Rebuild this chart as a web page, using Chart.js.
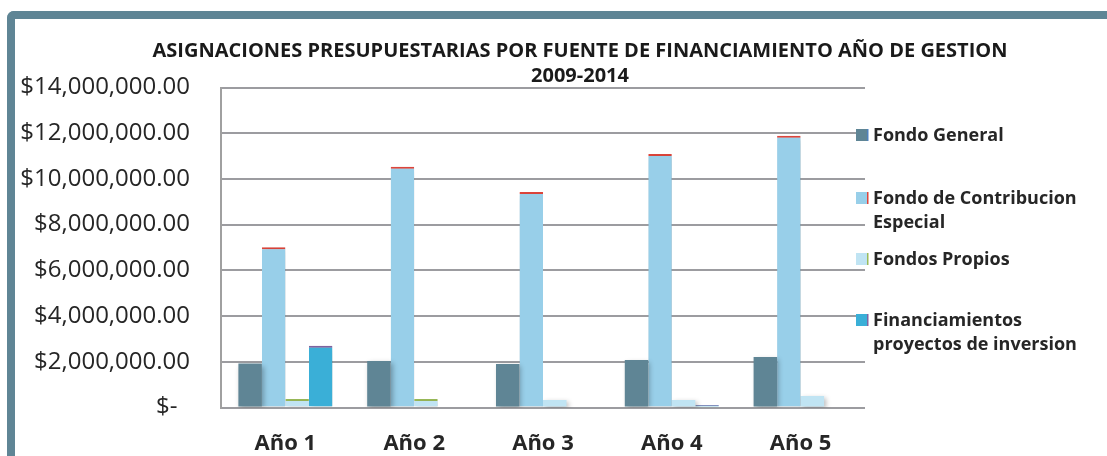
<!DOCTYPE html>
<html>
<head>
<meta charset="utf-8">
<script src="https://cdn.jsdelivr.net/npm/chart.js@4.4.1/dist/chart.umd.min.js"></script>
<style>
  html, body { margin: 0; padding: 0; background: #ffffff; overflow: hidden; }
  #frame {
    position: absolute; left: 7px; top: 11px; width: 1200px; height: 600px;
    border-top: 8px solid #5f8595; border-left: 8px solid #5f8595;
    border-top-left-radius: 7px; box-sizing: border-box;
  }
  #chart { position: absolute; left: 0; top: 0; }
</style>
</head>
<body>
<div id="frame"></div>
<canvas id="chart" width="1107" height="456"></canvas>
<script>
// ---- data ----
const categories = ['Año 1', 'Año 2', 'Año 3', 'Año 4', 'Año 5'];
const fondoGeneral = [1920000, 2030000, 1900000, 2080000, 2210000];
const fondoContribucion = [7010000, 10530000, 9430000, 11090000, 11890000];
const fondosPropios = [370000, 370000, 330000, 330000, 500000];
const financiamientos = [2700000, 0, 0, 110000, 0];
const seriesNames = ['Fondo General', ['Fondo de Contribucion', 'Especial'], 'Fondos Propios', ['Financiamientos', 'proyectos de inversion']];
const titleLines = ['ASIGNACIONES PRESUPUESTARIAS POR FUENTE DE FINANCIAMIENTO AÑO DE GESTION', '2009-2014'];
const yMin = 0, yMax = 14000000, yStep = 2000000;

// ---- styles ----
const FONT = "'Open Sans', 'Noto Sans', sans-serif";
const fills = ['#5f8595', '#98cfe9', '#c0e4f3', '#3aafd7'];
const edges = ['#4f81bd', '#e0463c', '#9bbb59', '#8064a2'];
const seriesData = [fondoGeneral, fondoContribucion, fondosPropios, financiamientos];

const datasets = seriesData.map((d, i) => ({
  label: Array.isArray(seriesNames[i]) ? seriesNames[i].join(' ') : seriesNames[i],
  data: d,
  backgroundColor: fills[i],
  borderColor: edges[i],
  borderWidth: (c) => (i > 0 && c.raw > 0 && !(i === 2 && c.dataIndex > 1)) ? { top: 2 } : 0,
  borderSkipped: 'bottom',
  categoryPercentage: 0.73,
  barPercentage: 1.0
}));

const overlay = {
  id: 'overlay',
  beforeDatasetsDraw(chart) {
    const ctx = chart.ctx;
    ctx.save();
    ctx.shadowColor = 'rgba(0,0,0,0.28)';
    ctx.shadowBlur = 5;
    ctx.shadowOffsetX = 2;
    ctx.shadowOffsetY = 2;
  },
  afterDatasetsDraw(chart) {
    chart.ctx.restore();
  },
  afterDraw(chart) {
    const ctx = chart.ctx;
    ctx.save();
    // title
    ctx.fillStyle = '#1a1a1a';
    ctx.textAlign = 'center';
    ctx.textBaseline = 'middle';
    ctx.font = 'bold 20px ' + FONT;
    ctx.fillText(titleLines[0], 580, 51);
    ctx.fillText(titleLines[1], 580, 76);
    // legend
    const boxTops = [129, 192, 253, 314];
    ctx.textAlign = 'left';
    ctx.font = 'bold 18px ' + FONT;
    seriesNames.forEach((name, i) => {
      const y = boxTops[i];
      ctx.fillStyle = fills[i];
      ctx.fillRect(856, y, 12, 12);
      ctx.fillStyle = edges[i];
      ctx.fillRect(867, y, 1.5, 12);
      ctx.fillStyle = '#262626';
      const lines = Array.isArray(name) ? name : [name];
      lines.forEach((t, k) => ctx.fillText(t, 873, y + 7 + k * 24));
    });
    ctx.restore();
  }
};

new Chart(document.getElementById('chart'), {
  type: 'bar',
  data: { labels: categories, datasets },
  plugins: [overlay],
  options: {
    responsive: false,
    animation: false,
    devicePixelRatio: 1,
    layout: { padding: { left: 0, top: 87.5, right: 242, bottom: 0 } },
    plugins: { legend: { display: false }, title: { display: false }, tooltip: { enabled: false } },
    scales: {
      x: {
        grid: { display: false },
        border: { display: false },
        ticks: { color: '#262626', padding: 15, font: { family: FONT, size: 22, weight: 'bold' } },
        afterFit: (s) => { s.height = 48.5; }
      },
      y: {
        min: yMin, max: yMax,
        ticks: {
          stepSize: yStep, color: '#262626', padding: 31,
          font: { family: FONT, size: 24 },
          callback: (v) => v === 0 ? '$-  ' : '$' + Number(v).toLocaleString('en-US', { minimumFractionDigits: 2, maximumFractionDigits: 2 })
        },
        grid: { color: '#9c9ca0', lineWidth: 2, drawTicks: false },
        border: { color: '#a0a0a0', width: 2 },
        afterFit: (s) => { s.width = 221; }
      }
    }
  }
});
</script>
</body>
</html>
